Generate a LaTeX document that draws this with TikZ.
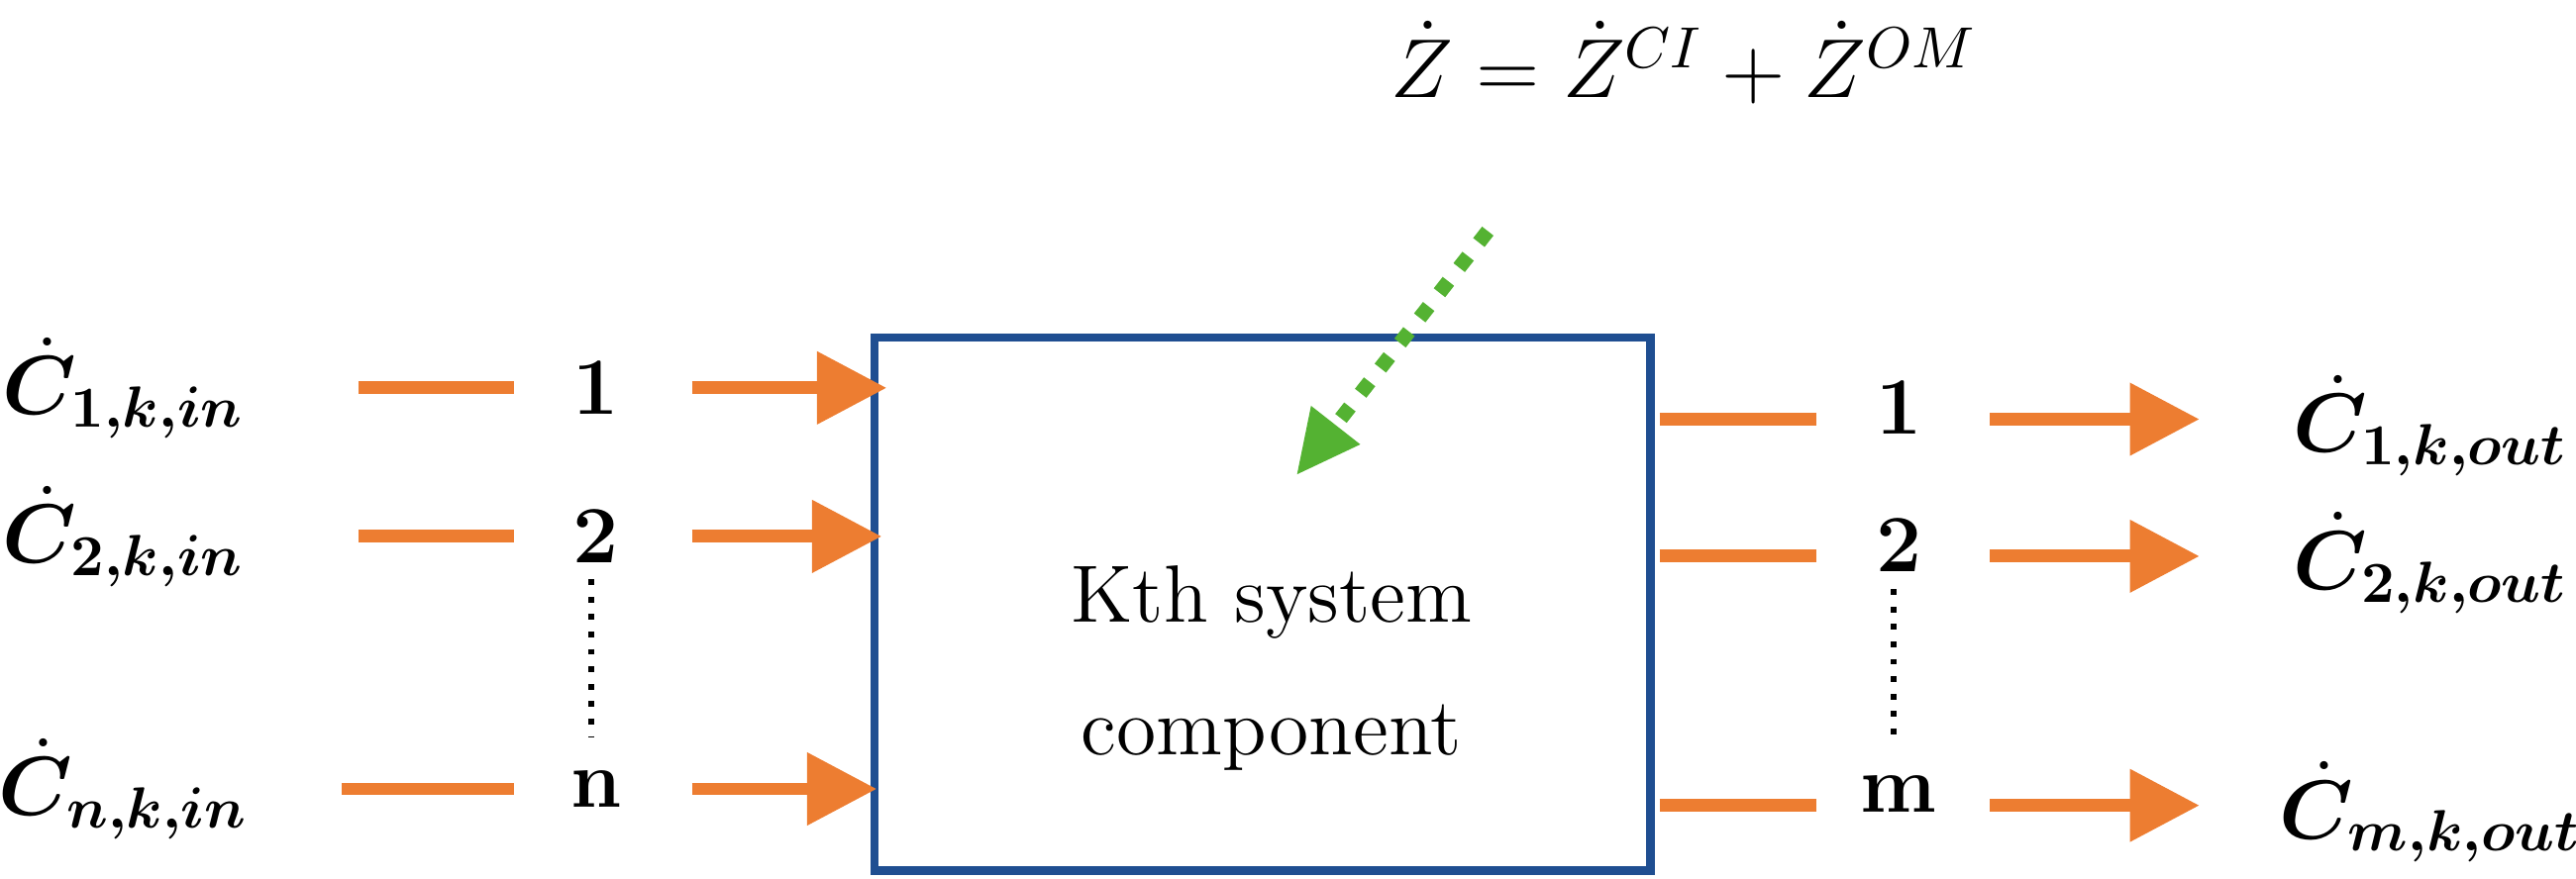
\documentclass[tikz,border=0pt]{standalone}
\usepackage{amsmath,bm}
\usetikzlibrary{arrows.meta}
\definecolor{org}{RGB}{237,125,49}
\definecolor{bx}{RGB}{31,78,145}
\definecolor{grn}{RGB}{84,178,50}
\begin{document}
\begin{tikzpicture}[x=0.01cm,y=-0.01cm,
  oline/.style={org,line width=2.2pt},
  arr/.style={org,line width=2.2pt,-{Triangle[length=12pt,width=12pt]}},
  num/.style={font=\fontsize{14}{16}\selectfont\bfseries},
  lab/.style={font=\fontsize{14}{16}\selectfont},
  dots/.style={dotted,line width=1pt}]
\useasboundingbox (0,0) rectangle (1560,532);
\node[draw=bx,line width=1.4pt,minimum width=470*0.01cm,minimum height=323*0.01cm,anchor=north west,inner sep=0] (box) at (527,202) {};
\node[font=\fontsize{14}{16}\selectfont] (t1) at (770,365) {Kth system};
\node[font=\fontsize{14}{16}\selectfont] (t2) at (770,447) {component};
\node[lab] (z) at (1020,38) {$\dot{Z}=\dot{Z}^{CI}+\dot{Z}^{OM}$};
\coordinate (gs) at (901,140);
\coordinate (ge) at (785,288);
\draw[grn,line width=2.5pt,dash pattern=on 2.5pt off 3pt,-{Triangle[length=11pt,width=10pt]}] (gs) -- (ge);
% inputs
\foreach \i/\y/\xa/\lbl/\n in {1/235/217/1/1,2/325/217/2/2,3/478/207/n/n}{
  \node[lab] (cin\i) at (75,\y) {$\dot{\bm{C}}_{\bm{\lbl,k,in}}$};
  \coordinate (da\i) at (\xa,\y);
  \coordinate (db\i) at (311,\y);
  \draw[oline] (da\i) -- (db\i);
  \node[num] (ni\i) at (361,\y) {\n};
  \coordinate (aa\i) at (419,\y);
  \coordinate (ab\i) at (540-\i*3,\y);
  \draw[arr] (aa\i) -- (ab\i);
}
\draw[dots] (358,351) coordinate (p1) -- (358,447) coordinate (p2);
% outputs
\foreach \i/\y/\lbl in {1/254/1,2/337/2,3/488/m}{
  \coordinate (ea\i) at (1005,\y);
  \coordinate (eb\i) at (1100,\y);
  \draw[oline] (ea\i) -- (eb\i);
  \node[num] (no\i) at (1150,\y-7) {\lbl};
  \coordinate (fa\i) at (1205,\y);
  \coordinate (fb\i) at (1332,\y);
  \draw[arr] (fa\i) -- (fb\i);
  \node[lab] (cout\i) at (1472,\y+4) {$\dot{\bm{C}}_{\bm{\lbl,k,out}}$};
}
\draw[dots] (1147,357) coordinate (q1) -- (1147,447) coordinate (q2);
\end{tikzpicture}
\end{document}
